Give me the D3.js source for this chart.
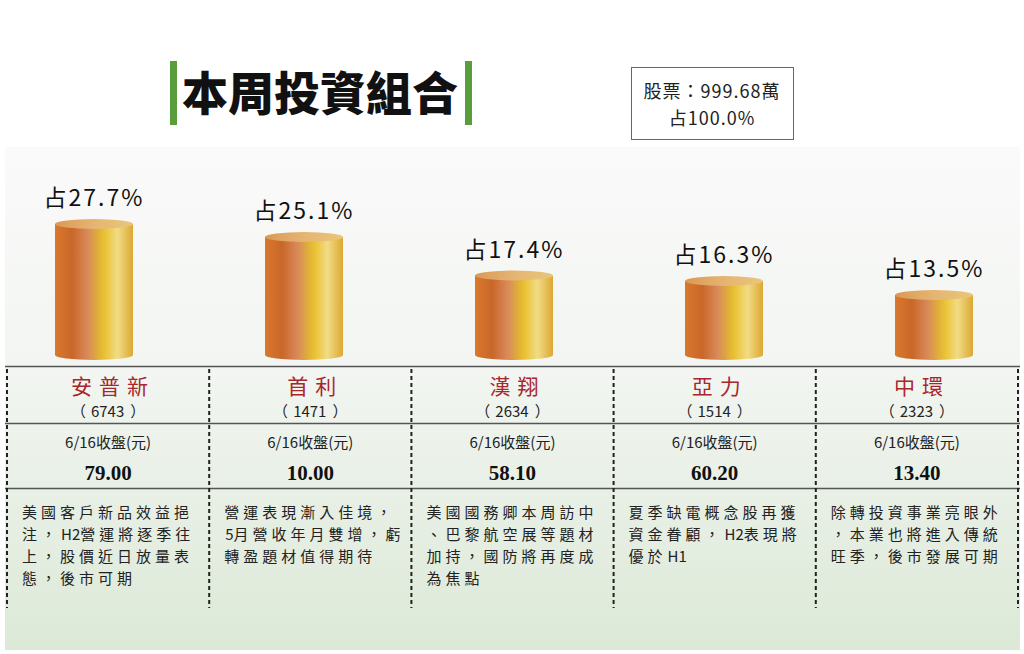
<!DOCTYPE html>
<html>
<head>
<meta charset="utf-8">
<script src="https://cdn.jsdelivr.net/npm/d3@7"></script>
<style>
  body { margin: 0; background: #fff; }
  text { font-family: "Noto Sans CJK TC", "Noto Sans", sans-serif; }
</style>
</head>
<body>
<div id="chart"></div>
<script>
// Data
const names = ['安普新', '首利', '漢翔', '亞力', '中環']
const codes = ['6743', '1471', '2634', '1514', '2323']
const shares = [27.7, 25.1, 17.4, 16.3, 13.5]
const prices = ['79.00', '10.00', '58.10', '60.20', '13.40']
const notes = [
  ['美國客戶新品效益挹', '注，H2營運將逐季往', '上，股價近日放量表', '態，後市可期'],
  ['營運表現漸入佳境，', '5月營收年月雙增，虧', '轉盈題材值得期待'],
  ['美國國務卿本周訪中', '、巴黎航空展等題材', '加持，國防將再度成', '為焦點'],
  ['夏季缺電概念股再獲', '資金眷顧，H2表現將', '優於H1'],
  ['除轉投資事業亮眼外', '，本業也將進入傳統', '旺季，後市發展可期']
]
const title = '本周投資組合'
const totalLines = ['股票：999.68萬', '占100.0%']
const closeLabel = '6/16收盤(元)'

const dataset = names.map((n, i) => ({
  name: n, code: codes[i], share: shares[i], price: prices[i], note: notes[i]
}))

// Dimensions
const width = 1024, height = 654
const cylW = 78

const svg = d3.select('#chart').append('svg')
  .attr('width', width)
  .attr('height', height)

const defs = svg.append('defs')

// background panel, white -> pale green
const bg = defs.append('linearGradient').attr('id', 'bg')
  .attr('x1', 0).attr('y1', 0).attr('x2', 0).attr('y2', 1)
bg.append('stop').attr('offset', '0%').attr('stop-color', '#fafafa')
bg.append('stop').attr('offset', '45%').attr('stop-color', '#f2f5f1')
bg.append('stop').attr('offset', '100%').attr('stop-color', '#dce9d7')

// cylinder body
const bodyGrad = defs.append('linearGradient').attr('id', 'cyl')
  .attr('x1', 0).attr('y1', 0).attr('x2', 1).attr('y2', 0)
const bodyStops = [
  [0, '#d9782e'], [0.22, '#c9672a'], [0.42, '#d98a5a'],
  [0.55, '#deae3a'], [0.64, '#ebc233'], [0.8, '#f1dc86'], [1, '#dca832']
]
bodyStops.forEach(s => bodyGrad.append('stop').attr('offset', s[0]).attr('stop-color', s[1]))

// cylinder top
const topGrad = defs.append('linearGradient').attr('id', 'cyltop')
  .attr('x1', 0).attr('y1', 0).attr('x2', 1).attr('y2', 0)
topGrad.append('stop').attr('offset', 0).attr('stop-color', '#d99a55')
topGrad.append('stop').attr('offset', 0.5).attr('stop-color', '#e6b472')
topGrad.append('stop').attr('offset', 1).attr('stop-color', '#e8c77a')

svg.append('rect')
  .attr('x', 5).attr('y', 147)
  .attr('width', 1015).attr('height', 503)
  .attr('fill', 'url(#bg)')

// Title
const tg = svg.append('g')
tg.append('text')
  .attr('x', 320).attr('y', 110)
  .attr('text-anchor', 'middle')
  .attr('font-size', 46)
  .attr('font-weight', 900)
  .attr('fill', '#111')
  .text(title)
tg.selectAll('rect.bar')
  .data([170, 465])
  .join('rect')
  .attr('x', d => d).attr('y', 61)
  .attr('width', 7).attr('height', 64)
  .attr('fill', '#5a9e3c')

// total box
svg.append('rect')
  .attr('x', 631.5).attr('y', 67.5)
  .attr('width', 162).attr('height', 72)
  .attr('fill', '#fff')
  .attr('stroke', '#666')
svg.selectAll('text.total')
  .data(totalLines)
  .join('text')
  .attr('class', 'total')
  .attr('x', 712)
  .attr('y', (d, i) => 98 + i * 27)
  .attr('text-anchor', 'middle')
  .attr('font-size', 18)
  .attr('letter-spacing', 1)
  .attr('fill', '#222')
  .text(d => d)

// Scales
const x = d3.scalePoint().domain(names).range([94, 934])
const y = d3.scaleLinear().domain([0, 30]).range([362.5, 212.5])
const base = 355
const col = d3.scaleBand().domain(names).range([7, 1018])

// Cylinders
const cyl = svg.append('g').selectAll('g')
  .data(dataset)
  .join('g')
  .attr('transform', d => `translate(${x(d.name)},0)`)

cyl.append('path')
  .attr('d', d => {
    const t = y(d.share), r = cylW / 2, ry = 5
    return `M${-r},${t} L${-r},${base} A${r},${ry} 0 0 0 ${r},${base} L${r},${t} Z`
  })
  .attr('fill', 'url(#cyl)')
cyl.append('ellipse')
  .attr('cx', 0).attr('cy', d => y(d.share))
  .attr('rx', cylW / 2).attr('ry', 5)
  .attr('fill', 'url(#cyltop)')

cyl.append('text')
  .attr('y', d => y(d.share) - 18)
  .attr('text-anchor', 'middle')
  .attr('font-size', 23)
  .attr('letter-spacing', 2)
  .attr('fill', '#111')
  .text(d => '占' + d.share.toFixed(1) + '%')

// Table
const table = svg.append('g')
table.selectAll('line.h')
  .data([366, 423, 488])
  .join('line')
  .attr('class', 'h')
  .attr('x1', 5).attr('x2', 1020)
  .attr('y1', d => d + 0.5).attr('y2', d => d + 0.5)
  .attr('stroke', '#555').attr('stroke-width', 1.3)

table.selectAll('line.v')
  .data(names.map(n => col(n)).concat([col.range()[1]]))
  .join('line')
  .attr('class', 'v')
  .attr('x1', d => d).attr('x2', d => d)
  .attr('y1', 369).attr('y2', 608)
  .attr('stroke', '#222').attr('stroke-width', 2)
  .attr('stroke-dasharray', '4 3')

const cells = table.selectAll('g.cell')
  .data(dataset)
  .join('g')
  .attr('class', 'cell')
  .attr('transform', d => `translate(${col(d.name)},0)`)

const mid = col.bandwidth() / 2

cells.append('text')
  .attr('x', mid + 5).attr('y', 394)
  .attr('text-anchor', 'middle')
  .attr('font-size', 21)
  .attr('letter-spacing', 7)
  .attr('fill', '#a8272c')
  .text(d => d.name)

// code in full-width brackets, spacing kept by hand
const codeText = cells.append('text')
  .attr('x', mid).attr('y', 417)
  .attr('text-anchor', 'middle')
  .attr('font-size', 15)
  .attr('fill', '#222')
codeText.append('tspan').text('（')
codeText.append('tspan').attr('dx', 5).text(d => d.code)
codeText.append('tspan').attr('dx', 6).text('）')

cells.append('text')
  .attr('x', mid).attr('y', 448)
  .attr('text-anchor', 'middle')
  .attr('font-size', 15)
  .attr('fill', '#222')
  .text(closeLabel)

cells.append('text')
  .attr('x', mid).attr('y', 480)
  .attr('text-anchor', 'middle')
  .style('font-family', '"Liberation Serif", "DejaVu Serif", serif')
  .attr('font-size', 21)
  .attr('font-weight', 'bold')
  .attr('fill', '#111')
  .text(d => d.price)

// notes: CJK spaced out, latin/digit runs kept tight
const noteLines = cells.selectAll('text.note')
  .data(d => d.note)
  .join('text')
  .attr('class', 'note')
  .attr('x', 15)
  .attr('y', (d, i) => 518 + i * 22)
  .attr('font-size', 15)
  .attr('fill', '#222')
noteLines.selectAll('tspan')
  .data(d => d.split(/([A-Za-z0-9]+)/).filter(s => s.length))
  .join('tspan')
  .attr('letter-spacing', s => /^[A-Za-z0-9]+$/.test(s) ? 0 : 4)
  .attr('dx', s => /^[A-Za-z0-9]+$/.test(s) ? 1 : 0)
  .text(s => s)
</script>
</body>
</html>
